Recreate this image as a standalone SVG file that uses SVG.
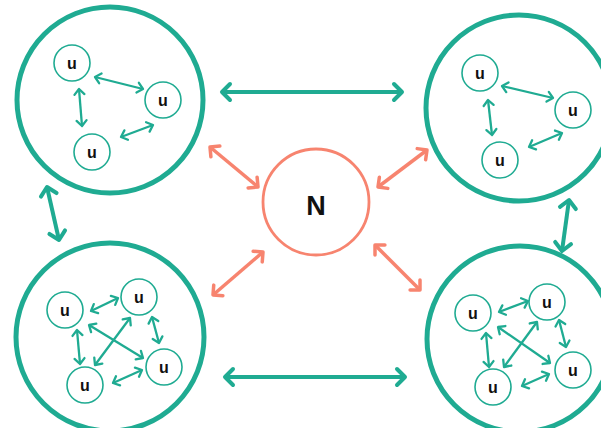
<svg xmlns="http://www.w3.org/2000/svg" width="601" height="428" viewBox="0 0 601 428">
<defs>
<style>
.big{fill:none;stroke:#1fab92;stroke-width:5}
.small{fill:#fff;stroke:#1fab92;stroke-width:1.6}
.ut{font-family:"Liberation Sans",Arial,sans-serif;font-weight:bold;font-size:16px;fill:#111;text-anchor:middle}
.ct{stroke:#1fab92;stroke-width:4;fill:none;marker-start:url(#ta);marker-end:url(#ta)}
.cs{stroke:#1fab92;stroke-width:2.3;fill:none;marker-start:url(#sa);marker-end:url(#sa)}
.cn{stroke:#f7846f;stroke-width:3.5;fill:none;marker-start:url(#na);marker-end:url(#na)}
</style>
<marker id="ta" viewBox="-14 -14 28 28" markerUnits="userSpaceOnUse" markerWidth="28" markerHeight="28" refX="0" refY="0" orient="auto-start-reverse" overflow="visible">
<path d="M-8,-8 L0,0 L-8,8" fill="none" stroke="#1fab92" stroke-width="4" stroke-linecap="round" stroke-linejoin="round"/>
</marker>
<marker id="sa" viewBox="-10 -10 20 20" markerUnits="userSpaceOnUse" markerWidth="20" markerHeight="20" refX="0" refY="0" orient="auto-start-reverse" overflow="visible">
<path d="M-5.5,-5 L0,0 L-5.5,5" fill="none" stroke="#1fab92" stroke-width="2.3" stroke-linecap="round" stroke-linejoin="round"/>
</marker>
<marker id="na" viewBox="-14 -14 28 28" markerUnits="userSpaceOnUse" markerWidth="28" markerHeight="28" refX="0" refY="0" orient="auto-start-reverse" overflow="visible">
<path d="M-7,-7 L0,0 L-7,7" fill="none" stroke="#f7846f" stroke-width="3.5" stroke-linecap="round" stroke-linejoin="round"/>
</marker>
</defs>
<rect width="601" height="428" fill="#fff"/>
<g id="connectors">
<line class="ct" x1="222" y1="92" x2="402" y2="92"/>
<line class="ct" x1="225" y1="377" x2="405" y2="377"/>
<line class="ct" x1="47" y1="187" x2="59" y2="240"/>
<line class="ct" x1="569" y1="200" x2="562" y2="251"/>
<line class="cn" x1="210" y1="147" x2="258" y2="187"/>
<line class="cn" x1="427" y1="150" x2="378" y2="187"/>
<line class="cn" x1="213" y1="295" x2="263" y2="252"/>
<line class="cn" x1="375" y1="245" x2="420" y2="290"/>
</g>
<g id="cluster-tl">
<circle class="big" cx="110" cy="100" r="93"/>
<line class="cs" x1="95" y1="77" x2="143" y2="89"/>
<line class="cs" x1="79" y1="89" x2="82" y2="126"/>
<line class="cs" x1="121" y1="137" x2="153" y2="125"/>
<g id="tl-u1"><circle class="small" cx="72" cy="63" r="18"/><text class="ut" x="72" y="69">u</text></g>
<g id="tl-u2"><circle class="small" cx="163" cy="100" r="18"/><text class="ut" x="163" y="106">u</text></g>
<g id="tl-u3"><circle class="small" cx="92" cy="152" r="18"/><text class="ut" x="92" y="158">u</text></g>
</g>
<g id="cluster-tr">
<circle class="big" cx="519" cy="108" r="93"/>
<line class="cs" x1="502" y1="86" x2="553" y2="98"/>
<line class="cs" x1="488" y1="100" x2="492" y2="135"/>
<line class="cs" x1="529" y1="147" x2="562" y2="133"/>
<g id="tr-u1"><circle class="small" cx="480" cy="73" r="18"/><text class="ut" x="480" y="79">u</text></g>
<g id="tr-u2"><circle class="small" cx="573" cy="110" r="18"/><text class="ut" x="573" y="116">u</text></g>
<g id="tr-u3"><circle class="small" cx="500" cy="160" r="18"/><text class="ut" x="500" y="166">u</text></g>
</g>
<g id="cluster-bl">
<circle class="big" cx="110" cy="337" r="94"/>
<line class="cs" x1="91" y1="311" x2="118" y2="298"/>
<line class="cs" x1="77" y1="330" x2="80" y2="364"/>
<line class="cs" x1="152" y1="317" x2="159" y2="343"/>
<line class="cs" x1="113" y1="383" x2="142" y2="370"/>
<line class="cs" x1="89" y1="325" x2="143" y2="358"/>
<line class="cs" x1="130" y1="318" x2="95" y2="365"/>
<g id="bl-u1"><circle class="small" cx="65" cy="310" r="18"/><text class="ut" x="65" y="316">u</text></g>
<g id="bl-u2"><circle class="small" cx="139" cy="297" r="18"/><text class="ut" x="139" y="303">u</text></g>
<g id="bl-u3"><circle class="small" cx="164" cy="367" r="18"/><text class="ut" x="164" y="373">u</text></g>
<g id="bl-u4"><circle class="small" cx="85" cy="385" r="18"/><text class="ut" x="85" y="391">u</text></g>
</g>
<g id="cluster-br">
<circle class="big" cx="520" cy="339" r="93"/>
<line class="cs" x1="499" y1="312" x2="528" y2="301"/>
<line class="cs" x1="486" y1="333" x2="489" y2="367"/>
<line class="cs" x1="559" y1="320" x2="566" y2="347"/>
<line class="cs" x1="522" y1="386" x2="549" y2="374"/>
<line class="cs" x1="498" y1="327" x2="550" y2="363"/>
<line class="cs" x1="537" y1="322" x2="504" y2="367"/>
<g id="br-u1"><circle class="small" cx="473" cy="313" r="18"/><text class="ut" x="473" y="319">u</text></g>
<g id="br-u2"><circle class="small" cx="547" cy="302" r="18"/><text class="ut" x="547" y="308">u</text></g>
<g id="br-u3"><circle class="small" cx="573" cy="370" r="18"/><text class="ut" x="573" y="376">u</text></g>
<g id="br-u4"><circle class="small" cx="493" cy="387" r="18"/><text class="ut" x="493" y="393">u</text></g>
</g>
<g id="node-N">
<circle cx="316" cy="202" r="53" fill="#fff" stroke="#f7846f" stroke-width="2.8"/>
<text x="316" y="215" font-family="Liberation Sans,Arial,sans-serif" font-weight="bold" font-size="27" fill="#111" text-anchor="middle">N</text>
</g>
</svg>
